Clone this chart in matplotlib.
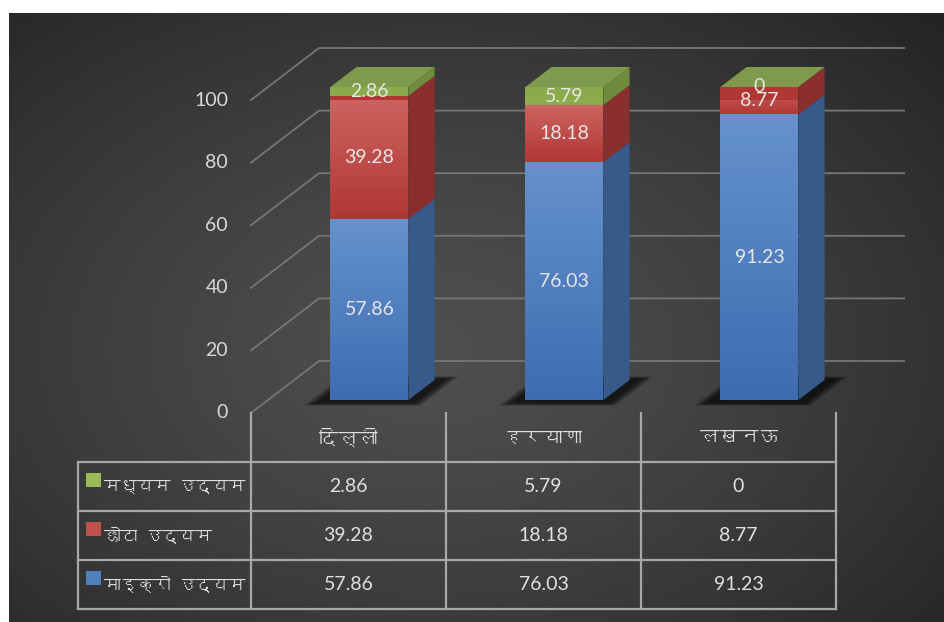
import matplotlib
matplotlib.use("Agg")
import matplotlib.pyplot as plt
from matplotlib import font_manager
from matplotlib.patches import Polygon, Rectangle
from matplotlib.colors import LinearSegmentedColormap
import numpy as np

# data
cities = ["दिल्ली", "हरयाणा", "लखनऊ"]
micro = [57.86, 76.03, 91.23]
small = [39.28, 18.18, 8.77]
medium = [2.86, 5.79, 0]
series_names = ["मध्यम उद्यम", "छोटा उद्यम", "माइक्रो उद्यम"]  # table order, top to bottom
yticks = [0, 20, 40, 60, 80, 100]


def find_deva_font():
    # look for any installed font that has Devanagari glyphs
    try:
        from fontTools.ttLib import TTFont
    except ImportError:
        return None
    for f in font_manager.fontManager.ttflist:
        try:
            cmap = TTFont(f.fname, fontNumber=0, lazy=True).getBestCmap()
        except Exception:
            continue
        if cmap and 0x0926 in cmap and 0x092F in cmap:
            return f.name
    return None


deva = find_deva_font()
num_font = ["Lato", "DejaVu Sans"]
txt_font = ([deva] if deva else []) + ["Lato", "DejaVu Sans"]

W, H = 944, 622
fig = plt.figure(figsize=(W / 100, H / 100), dpi=100, facecolor="white")

# dark radial background
bg = fig.add_axes([9 / W, 0, 1 - 9 / W, (H - 13) / H])
yy, xx = np.mgrid[0:1:300j, 0:1:460j]
r = np.sqrt(((xx - 0.45) / 0.75) ** 2 + ((yy - 0.55) / 0.8) ** 2)
v = np.clip(0.31 - 0.17 * r ** 1.3, 0.12, 0.32)
bg.imshow(np.dstack([v, v, v]), aspect="auto", extent=[0, 1, 0, 1], interpolation="bilinear")
bg.axis("off")

# chart axes: front plane, x in category units, y in values
ax = fig.add_axes([251 / W, (H - 413) / H, 585 / W, 313 / H])
ax.set_xlim(-0.5, 2.5)
ax.set_ylim(0, 100)
ax.axis("off")
ax.patch.set_alpha(0)

DX = 68 / 195.0   # depth shift in x units
DY = 52 / 3.13    # depth shift in value units


def proj(x, y, d):
    return (x + d * DX, y + d * DY)


grid_c = "#767676"
for t in yticks:
    x0, y0 = proj(-0.5, t, 0)
    x1, y1 = proj(-0.5, t, 1)
    x2, y2 = proj(2.5, t, 1)
    ax.plot([x0, x1, x2], [y0, y1, y2], color=grid_c, lw=1.3, clip_on=False, zorder=1)
    ax.text(-0.5 - 23 / 195.0, t, str(t), ha="right", va="center", fontsize=14,
            color="#d9d9d9", family=num_font)

f0, f1 = 0.25, 0.635
hw = 0.2
xoff = 0.02

colors = {
    "micro": ("#6592ce", "#3e6cb0", "#375a8a"),
    "small": ("#cc6461", "#b13734", "#8a2f2d"),
    "medium": ("#9dbd5d", "#8aab4a", "#6e8c3b"),
}
top_face = "#7f9a4c"


def grad_face(poly_xy, c_top, c_bot, z):
    poly = Polygon(poly_xy, closed=True, facecolor=c_bot, edgecolor="none",
                   clip_on=False, zorder=z)
    ax.add_patch(poly)
    xs = [p[0] for p in poly_xy]
    ys = [p[1] for p in poly_xy]
    if max(ys) - min(ys) <= 0:
        return
    cm = LinearSegmentedColormap.from_list("g", [c_bot, c_top])
    im = ax.imshow(np.linspace(0, 1, 64).reshape(-1, 1), cmap=cm, aspect="auto",
                   origin="lower", extent=[min(xs), max(xs), min(ys), max(ys)],
                   zorder=z + 0.01, clip_on=True)
    im.set_clip_path(poly)


for i in range(len(cities)):
    xc = i + xoff
    # soft shadow on the floor
    for k in range(5):
        g = 0.012 * (4 - k)
        sh = [proj(xc - hw - 0.05 - g, 0, f0 - 0.06 - g), proj(xc + hw + 0.05 + g, 0, f0 - 0.06 - g),
              proj(xc + hw + 0.05 + g, 0, f1 + 0.02 + g), proj(xc - hw - 0.05 - g, 0, f1 + 0.02 + g)]
        ax.add_patch(Polygon(sh, closed=True, facecolor="black", alpha=0.2,
                             edgecolor="none", clip_on=False, zorder=2))
    base = 0.0
    for key, vals in (("micro", micro), ("small", small), ("medium", medium)):
        val = vals[i]
        top = base + val
        c_top, c_bot, c_side = colors[key]
        side = [proj(xc + hw, base, f0), proj(xc + hw, base, f1),
                proj(xc + hw, top, f1), proj(xc + hw, top, f0)]
        ax.add_patch(Polygon(side, closed=True, facecolor=c_side, edgecolor="none",
                             clip_on=False, zorder=3))
        front = [proj(xc - hw, base, f0), proj(xc + hw, base, f0),
                 proj(xc + hw, top, f0), proj(xc - hw, top, f0)]
        grad_face(front, c_top, c_bot, 4)
        lx, ly = proj(xc, base + val / 2, f0)
        ax.text(lx, ly, f"{val:g}", ha="center", va="center", fontsize=14,
                color="#e6e6e6", family=num_font, zorder=6)
        base = top
    tf = [proj(xc - hw, base, f0), proj(xc + hw, base, f0),
          proj(xc + hw, base, f1), proj(xc - hw, base, f1)]
    ax.add_patch(Polygon(tf, closed=True, facecolor=top_face, edgecolor="none",
                         clip_on=False, zorder=5))

# data table below the chart (pixel coordinates)
tab = fig.add_axes([0, 0, 1, 1])
tab.set_xlim(0, W)
tab.set_ylim(H, 0)
tab.axis("off")
tab.patch.set_alpha(0)

line_c = "#a8a8a8"
col_x = [251 + 195 * k for k in range(4)]
row_y = [413, 462, 511, 560, 609]
for x in col_x:
    tab.plot([x, x], [row_y[0], row_y[-1]], color=line_c, lw=1.6)
tab.plot([78, 78], [row_y[1], row_y[-1]], color=line_c, lw=1.6)
for y in row_y[1:]:
    tab.plot([78, col_x[-1]], [y, y], color=line_c, lw=1.6)

for i, c in enumerate(cities):
    tab.text((col_x[i] + col_x[i + 1]) / 2, (row_y[0] + row_y[1]) / 2, c,
             ha="center", va="center", fontsize=14, color="#e0e0e0", family=txt_font)

table_rows = [medium, small, micro]
legend_colors = ["#9bbb59", "#c0504d", "#4f81bd"]
for r_i, (name, vals, lc) in enumerate(zip(series_names, table_rows, legend_colors)):
    yt, yb = row_y[r_i + 1], row_y[r_i + 2]
    tab.add_patch(Rectangle((86, yt + 11), 15, 14, facecolor=lc, edgecolor="none"))
    tab.text(104, (yt + yb) / 2, name, ha="left", va="center", fontsize=12,
             color="#e0e0e0", family=txt_font)
    for i, v in enumerate(vals):
        tab.text((col_x[i] + col_x[i + 1]) / 2, (yt + yb) / 2, f"{v:g}",
                 ha="center", va="center", fontsize=14, color="#e0e0e0", family=num_font)

fig.savefig("out.png", dpi=100, facecolor="white")
